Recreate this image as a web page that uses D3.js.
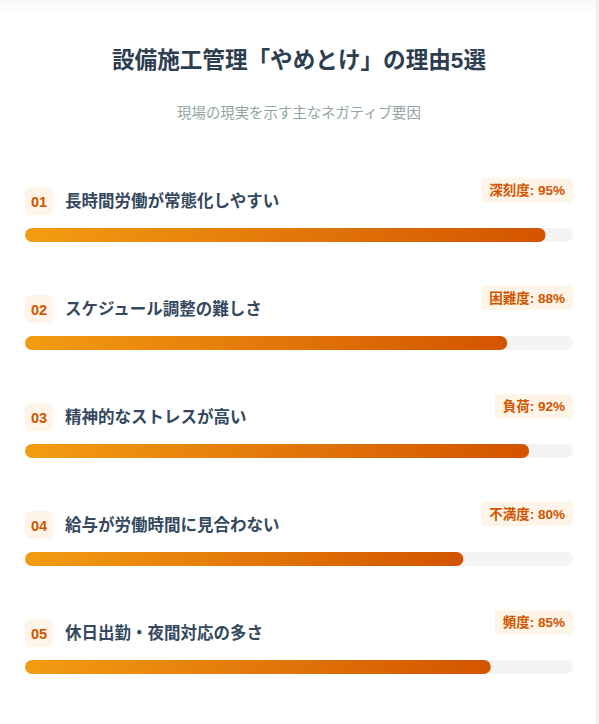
<!DOCTYPE html>
<html><head><meta charset="utf-8">
<script src="https://cdn.jsdelivr.net/npm/d3@7"></script>
<style>
html,body{margin:0;padding:0;background:#fff;overflow:hidden;}
svg{display:block;font-family:"Liberation Sans",Arial,"Noto Sans CJK JP",sans-serif;}
</style></head>
<body>
<svg id="chart" width="599" height="724"></svg>
<script>
const titleText = "設備施工管理「やめとけ」の理由5選";
const subtitleText = "現場の現実を示す主なネガティブ要因";
const ranks = ["01","02","03","04","05"];
const reasons = ["長時間労働が常態化しやすい","スケジュール調整の難しさ","精神的なストレスが高い","給与が労働時間に見合わない","休日出勤・夜間対応の多さ"];
const metricNames = ["深刻度","困難度","負荷","不満度","頻度"];
const values = [95,88,92,80,85];

const svg = d3.select("#chart");
const W = 599, H = 724;

const defs = svg.append("defs");
const topShade = defs.append("linearGradient").attr("id","topShade").attr("x1",0).attr("y1",0).attr("x2",0).attr("y2",1);
topShade.append("stop").attr("offset","0%").attr("stop-color","#f6f7f8");
topShade.append("stop").attr("offset","100%").attr("stop-color","#ffffff");
svg.append("rect").attr("width",W).attr("height",H).attr("fill","#fff");
svg.append("rect").attr("width",W).attr("height",16).attr("fill","url(#topShade)");
svg.append("rect").attr("x",596).attr("y",0).attr("width",3).attr("height",H).attr("fill","#f3f4f5");
svg.append("line").attr("x1",596.5).attr("x2",596.5).attr("y1",0).attr("y2",H).attr("stroke","#e6e8ea");

svg.append("text").attr("x",299).attr("y",60).attr("text-anchor","middle").attr("dominant-baseline","central")
  .attr("font-size",22.6).attr("font-weight",700).attr("fill","#2c3e50").text(titleText);
svg.append("text").attr("x",299).attr("y",113).attr("text-anchor","middle").attr("dominant-baseline","central")
  .attr("font-size",14.4).attr("fill","#95a5a6").text(subtitleText);

const x = d3.scaleLinear().domain([0,100]).range([25,573]);
const y = d3.scaleBand().domain(d3.range(values.length)).range([158,698]).paddingInner(0);

const barH = 14;
const rows = svg.selectAll("g.row").data(values).join("g").attr("class","row")
  .attr("transform",(d,i)=>`translate(0,${y(i)})`);

values.forEach((v,i)=>{
  const g = defs.append("linearGradient").attr("id","grad"+i).attr("gradientUnits","userSpaceOnUse")
    .attr("x1",x(0)).attr("x2",x(v)).attr("y1",0).attr("y2",0);
  g.append("stop").attr("offset","0%").attr("stop-color","#f39c12");
  g.append("stop").attr("offset","100%").attr("stop-color","#d35400");
});

rows.append("rect").attr("x",25).attr("y",29).attr("width",28).attr("height",28).attr("rx",6)
  .attr("fill","#fef5e8");
rows.append("text").attr("x",39).attr("y",43.5).attr("text-anchor","middle").attr("dominant-baseline","central")
  .attr("font-size",14.5).attr("font-weight",700).attr("fill","#d35400").text((d,i)=>ranks[i]);
rows.append("text").attr("x",65).attr("y",43).attr("dominant-baseline","central")
  .attr("font-size",16.5).attr("font-weight",700).attr("fill","#34495e").text((d,i)=>reasons[i]);
rows.each(function(d,i){
  const g = d3.select(this);
  const t = g.append("text").attr("x",565).attr("y",32).attr("text-anchor","end").attr("dominant-baseline","central")
    .attr("font-size",13.5).attr("font-weight",700).attr("fill","#d35400").text(`${metricNames[i]}: ${d}%`);
  const w = t.node().getComputedTextLength();
  g.insert("rect","text").attr("x",565-w-8).attr("y",20).attr("width",w+16).attr("height",24).attr("rx",4)
    .attr("fill","#fef5e8");
});
rows.append("rect").attr("x",x(0)).attr("y",70).attr("width",x(100)-x(0)).attr("height",barH).attr("rx",7)
  .attr("fill","#f4f4f4");
rows.append("rect").attr("x",x(0)).attr("y",70).attr("width",d=>x(d)-x(0)).attr("height",barH).attr("rx",7)
  .attr("fill",(d,i)=>`url(#grad${i})`);
</script>
</body></html>
